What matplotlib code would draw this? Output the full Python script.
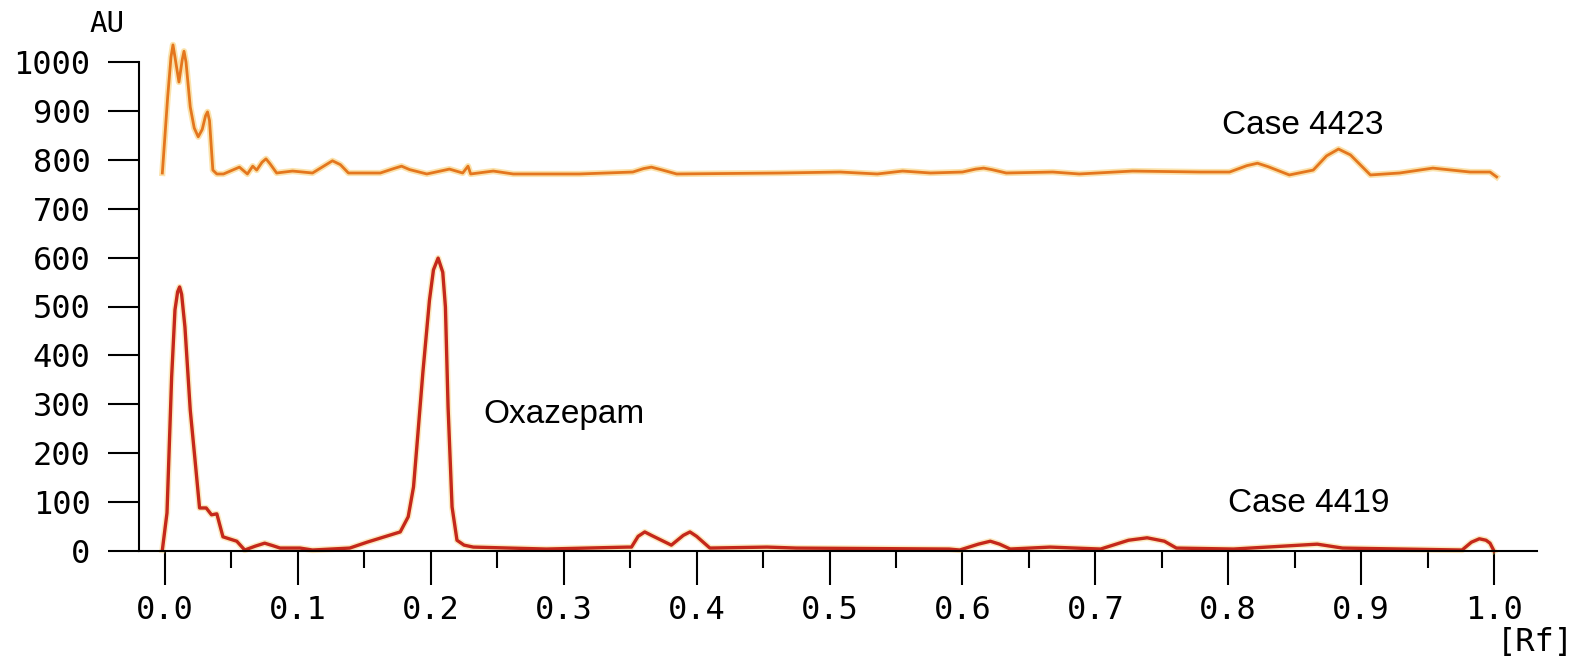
import numpy as np
import matplotlib
matplotlib.use("Agg")
import matplotlib.pyplot as plt

# densitogram traces (Rf, AU)
rf_4423 = [-0.002, 0.002, 0.0045, 0.006, 0.0075, 0.0105, 0.013, 0.0143, 0.0158, 0.019, 0.022,
           0.025, 0.028, 0.0305, 0.032, 0.0335, 0.036, 0.039, 0.044,
           0.050, 0.056, 0.062, 0.066, 0.069, 0.073, 0.076, 0.079, 0.084, 0.096, 0.111,
           0.120, 0.126, 0.132, 0.138, 0.162, 0.172, 0.178, 0.184,
           0.197, 0.214, 0.224, 0.228, 0.230, 0.247, 0.262, 0.312, 0.352, 0.360, 0.366,
           0.373, 0.385, 0.463, 0.508, 0.536, 0.555, 0.576, 0.600, 0.610, 0.616, 0.622,
           0.633, 0.668, 0.688, 0.728, 0.779, 0.801, 0.814, 0.822, 0.830, 0.846, 0.864,
           0.874, 0.883, 0.892, 0.907, 0.929, 0.954, 0.982, 0.997, 1.002]
au_4423 = [773, 928, 1010, 1035, 1010, 959, 1005, 1022, 1000, 908, 865,
           847, 862, 890, 898, 880, 779, 771, 771,
           778, 785, 771, 787, 779, 795, 802, 792, 773, 777, 773,
           788, 798, 790, 773, 773, 782, 787, 780,
           771, 781, 773, 787, 771, 777, 771, 771, 775, 782, 785,
           780, 771, 773, 775, 771, 777, 773, 775, 781, 783, 780,
           773, 775, 771, 777, 775, 775, 788, 793, 786, 769, 779,
           808, 822, 810, 769, 773, 783, 775, 775, 765]

rf_4419 = [-0.002, 0.0015, 0.005, 0.0075, 0.0095, 0.011, 0.0125, 0.015, 0.019, 0.0226, 0.026,
           0.031, 0.035, 0.039, 0.0436, 0.054, 0.060, 0.068, 0.075, 0.081, 0.0866, 0.1016,
           0.111, 0.139, 0.152, 0.177, 0.183, 0.187, 0.190, 0.194, 0.199, 0.202, 0.2055,
           0.209, 0.211, 0.213, 0.216, 0.2197, 0.225, 0.232, 0.287, 0.348, 0.351, 0.356,
           0.361, 0.366, 0.381, 0.390, 0.395, 0.400, 0.41, 0.453, 0.475, 0.59, 0.598,
           0.612, 0.621, 0.628, 0.636, 0.666, 0.704, 0.725, 0.739, 0.752, 0.761, 0.804,
           0.867, 0.886, 0.976, 0.983, 0.989, 0.994, 0.997, 1.0]
au_4419 = [2, 78, 356, 493, 530, 540, 525, 458, 288, 186, 88,
           88, 74, 76, 29, 20, 2, 10, 16, 11, 6, 6,
           2, 6, 18, 39, 70, 131, 230, 364, 513, 575, 599,
           570, 499, 294, 90, 22, 12, 8, 4, 8, 8, 30,
           39, 32, 12, 32, 39, 30, 6, 8, 6, 4, 2,
           14, 20, 14, 4, 8, 4, 22, 27, 20, 6, 4,
           14, 6, 2, 18, 25, 22, 16, 0]

x_ticks = np.arange(0, 11) / 10
x_minor = np.arange(0, 10) / 10 + 0.05
y_ticks = np.arange(0, 1001, 100)

W, H = 1581, 657
fig = plt.figure(figsize=(W / 100, H / 100), dpi=100)
ax = fig.add_axes([139 / W, 106 / H, 1398 / W, 489 / H])

# orange trace with a faint yellow halo, like the scanned print
ax.plot(rf_4423, au_4423, color="#f7c75a", lw=4.5, alpha=0.5, clip_on=False,
        solid_joinstyle="round")
ax.plot(rf_4423, au_4423, color="#e4761e", lw=2.0, clip_on=False, solid_joinstyle="round")
ax.plot(rf_4419, au_4419, color="#f5c860", lw=4.5, alpha=0.4, clip_on=False,
        solid_joinstyle="round")
ax.plot(rf_4419, au_4419, color="#c5281b", lw=2.4, clip_on=False, solid_joinstyle="round")

ax.set_xlim((139 - 165) / 1329, (1537 - 165) / 1329)
ax.set_ylim(0, 1000)

for s in ["top", "right"]:
    ax.spines[s].set_visible(False)
for s in ["left", "bottom"]:
    ax.spines[s].set_linewidth(1.5)

mono = "DejaVu Sans Mono"
ax.set_xticks(x_ticks)
ax.set_xticks(x_minor, minor=True)
ax.set_xticklabels([f"{v:.1f}" for v in x_ticks], fontfamily=mono, fontsize=23)
ax.set_yticks(y_ticks)
ax.set_yticklabels([str(v) for v in y_ticks], fontfamily=mono, fontsize=23)
ax.tick_params(axis="x", which="major", direction="out", length=24.5, width=1.5, pad=7)
ax.tick_params(axis="x", which="minor", direction="out", length=12, width=1.5)
ax.tick_params(axis="y", direction="out", length=22, width=1.5, pad=13)

fig.text(107 / W, 1 - 24 / H, "AU", fontfamily=mono, fontsize=21, ha="center", va="center")
fig.text(1535 / W, 1 - 642 / H, "[Rf]", fontfamily=mono, fontsize=23, ha="center", va="center")

sans = "Liberation Sans"
fig.text(1222 / W, 1 - 125 / H, "Case 4423", fontfamily=sans, fontsize=24, ha="left", va="center")
fig.text(1228 / W, 1 - 503 / H, "Case 4419", fontfamily=sans, fontsize=24, ha="left", va="center")
fig.text(483 / W, 1 - 415 / H, "Oxazepam", fontfamily=sans, fontsize=24, ha="left", va="center")

fig.savefig("out.png", dpi=100, facecolor="white")
